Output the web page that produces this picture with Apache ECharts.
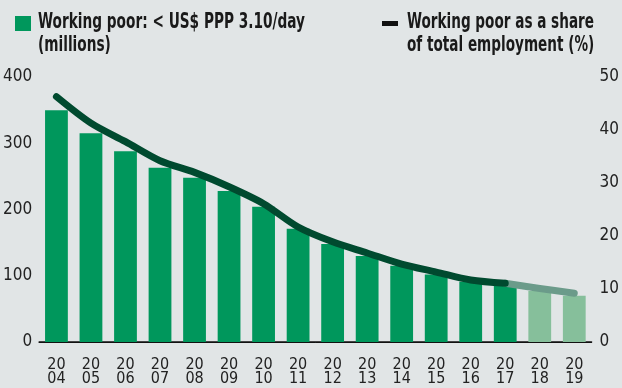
<!DOCTYPE html>
<html>
<head>
<meta charset="utf-8">
<script src="https://cdn.jsdelivr.net/npm/echarts@6/dist/echarts.min.js"></script>
<style>
  html, body { margin: 0; padding: 0; background: #e1e5e6; }
  #chart { width: 622px; height: 388px; }
</style>
</head>
<body>
<div id="chart"></div>
<script>
// Years shown along the bottom axis
const years = ['2004','2005','2006','2007','2008','2009','2010','2011',
               '2012','2013','2014','2015','2016','2017','2018','2019'];
// Working poor below US$ PPP 3.10/day, millions
const workingPoor = [350, 315, 288, 263, 248, 228, 204, 171,
                     148, 130, 115, 102, 91, 86, 77, 70];
// Working poor as a share of total employment, %
const workingPoorShare = [46.3, 41.3, 37.8, 34.2, 32.0, 29.3, 26.1, 21.7,
                          18.9, 16.8, 14.7, 13.2, 11.7, 11.1, 10.1, 9.2];
// First projected year (lighter styling from here on)
const firstProjected = '2018';
// Axis tick labels
const leftTicks = [0, 100, 200, 300, 400];
const rightTicks = [0, 10, 20, 30, 40, 50];

const FONT = '"DejaVu Sans Condensed", "Liberation Sans Narrow", "Liberation Sans", sans-serif';
const LEGEND_FONT = 'bold 21px ' + FONT;
const GREEN = '#00975c', GREEN_LIGHT = '#86bf9b';
const LINE_DARK = '#004a2f', LINE_LIGHT = '#6b9b8a';

// Squeeze legend lines horizontally to a condensed look
const measureCtx = document.createElement('canvas').getContext('2d');
function squeezeFor(text, targetWidth) {
  measureCtx.font = LEGEND_FONT;
  const w = measureCtx.measureText(text).width;
  return Math.min(1, targetWidth / w);
}

const projIdx = years.indexOf(firstProjected);
const barData = workingPoor.map((v, i) => ({
  value: v,
  itemStyle: { color: i >= projIdx ? GREEN_LIGHT : GREEN }
}));
const lineActual = workingPoorShare.map((v, i) => (i < projIdx ? v : '-'));
const lineProjected = workingPoorShare.map((v, i) => (i >= projIdx - 1 ? v : '-'));

const legendLeft = 'Working poor: < US$ PPP 3.10/day\n(millions)';
const legendRight = 'Working poor as a share\nof total employment (%)';
const sxLeft = squeezeFor('Working poor: < US$ PPP 3.10/day', 267);
const sxRight = squeezeFor('Working poor as a share', 187);

const chart = echarts.init(document.getElementById('chart'), null, { renderer: 'canvas' });
chart.setOption({
  backgroundColor: '#e1e5e6',
  animation: false,
  grid: { left: 38, right: 22, top: 77, bottom: 46 },
  xAxis: [{
    type: 'category',
    data: years,
    axisLine: { show: true, lineStyle: { color: '#111', width: 1.5 } },
    axisTick: { show: false },
    axisLabel: {
      interval: 0, margin: 16,
      fontFamily: FONT, fontSize: 16, color: '#222', lineHeight: 14,
      formatter: y => y.slice(0, 2) + '\n' + y.slice(2)
    }
  }, {
    type: 'category',
    data: years,
    position: 'top',
    axisLine: { show: true, lineStyle: { color: '#111', width: 1 } },
    axisTick: { show: false },
    axisLabel: { show: false }
  }],
  yAxis: [{
    type: 'value', min: leftTicks[0], max: leftTicks[leftTicks.length - 1], interval: 100,
    axisLine: { show: false }, axisTick: { show: false }, splitLine: { show: false },
    axisLabel: { margin: 7, fontFamily: FONT, fontSize: 17, color: '#222' }
  }, {
    type: 'value', min: rightTicks[0], max: rightTicks[rightTicks.length - 1], interval: 10,
    position: 'right',
    axisLine: { show: false }, axisTick: { show: false }, splitLine: { show: false },
    axisLabel: { margin: 8, fontFamily: FONT, fontSize: 17, color: '#222' }
  }],
  series: [{
    name: 'Working poor (millions)',
    type: 'bar',
    data: barData,
    barCategoryGap: '34%',
    yAxisIndex: 0,
    z: 2
  }, {
    name: 'Share projected',
    type: 'line',
    data: lineProjected,
    yAxisIndex: 1,
    smooth: 0.3,
    symbol: 'none',
    lineStyle: { color: LINE_LIGHT, width: 7, cap: 'round', join: 'round' },
    z: 3
  }, {
    name: 'Share',
    type: 'line',
    data: lineActual,
    yAxisIndex: 1,
    smooth: 0.3,
    symbol: 'none',
    lineStyle: { color: LINE_DARK, width: 7, cap: 'round', join: 'round' },
    z: 4
  }],
  graphic: [
    { type: 'rect', x: 15, y: 16, shape: { width: 16, height: 15 }, style: { fill: GREEN } },
    { type: 'text', x: 38, y: 11, scaleX: sxLeft, style: {
        text: legendLeft, font: LEGEND_FONT, fill: '#1a1a1a', lineHeight: 23,
        verticalAlign: 'top', align: 'left' } },
    { type: 'rect', x: 382, y: 21, shape: { width: 16, height: 5 }, style: { fill: '#111' } },
    { type: 'text', x: 407, y: 11, scaleX: sxRight, style: {
        text: legendRight, font: LEGEND_FONT, fill: '#1a1a1a', lineHeight: 23,
        verticalAlign: 'top', align: 'left' } }
  ]
});
</script>
</body>
</html>
